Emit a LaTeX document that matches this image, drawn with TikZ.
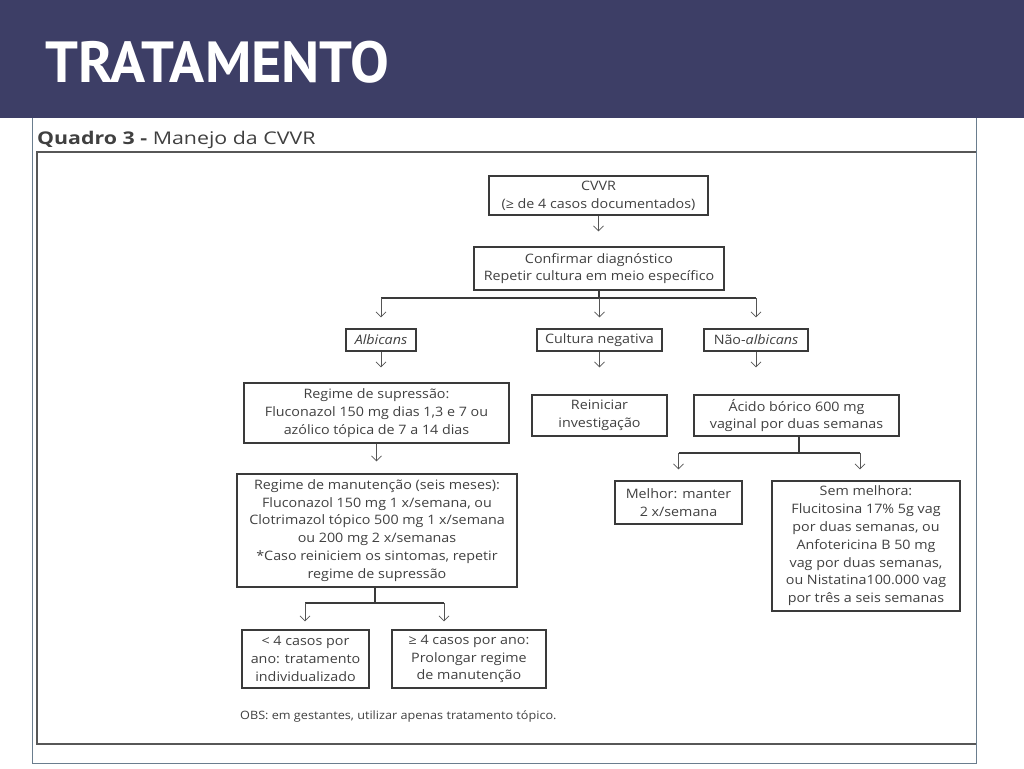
\documentclass[tikz,border=0pt]{standalone}
\usepackage{fontspec}
\setmainfont[FakeStretch=1.1]{Open Sans}
\newfontfamily\headfont[FakeStretch=1.22]{Open Sans}
\newfontfamily\titlefont{PT Sans}
\usetikzlibrary{arrows.meta}

\definecolor{barblue}{HTML}{3D3E66}
\definecolor{framecol}{HTML}{6A7D8E}
\definecolor{boxgray}{HTML}{3A3A3A}
\definecolor{txtgray}{HTML}{404040}
\definecolor{arrgray}{HTML}{555555}

\tikzset{
  box/.style={draw=boxgray, line width=1.2pt, align=center, inner sep=2pt,
    text=txtgray, font=\fontsize{13}{17.8}\selectfont},
  arr/.style={-{Straight Barb[length=5pt,width=10pt]}, draw=arrgray, line width=0.8pt},
  link/.style={draw=boxgray, line width=1.2pt},
}

\begin{document}
\begin{tikzpicture}[x=1pt, y=-1pt]
    \useasboundingbox (0,0) rectangle (1024,768);
    % slide background and title
    \fill[white] (0,0) rectangle (1024,768);
    \fill[barblue] (0,0) rectangle (1024,118);
    \node[anchor=base west, inner sep=0, text=white,
      font=\titlefont\fontsize{58}{58}\bfseries\selectfont] (title) at (45,82) {TRATAMENTO};

    % frames
    \draw[framecol, line width=0.8pt] (32,118) -- (32,763) -- (976,763) -- (976,118);
    \draw[boxgray!85, line width=1.6pt] (976,152) -- (37,152) -- (37,744) -- (976,744);
    \node[anchor=base west, inner sep=0, text=txtgray,
      font=\headfont\fontsize{17.5}{19}\selectfont] (quadro) at (37,144)
      {\textbf{Quadro 3 -} Manejo da CVVR};

    % boxes
    \node[box, minimum width=219, minimum height=39] (cvvr) at (598.5,195.5)
      {CVVR\\(≥ de 4 casos documentados)};
    \node[box, minimum width=250, minimum height=43] (conf) at (599,268.5)
      {Confirmar diagnóstico\\Repetir cultura em meio específico};

    \node[box, minimum width=70, minimum height=22] (alb) at (381,340) {\textit{Albicans}};
    \node[box, minimum width=125, minimum height=22] (neg) at (599.5,340) {Cultura negativa};
    \node[box, minimum width=104, minimum height=22] (nalb) at (756,340) {Não-\textit{albicans}};

    \node[box, minimum width=265, minimum height=60] (sup) at (376.5,413)
      {Regime de supressão:\\Fluconazol 150 mg dias 1,3 e 7 ou\\azólico tópica de 7 a 14 dias};
    \node[box, minimum width=135, minimum height=41] (rein) at (599.5,415.5)
      {Reiniciar\\investigação};
    \node[box, minimum width=205, minimum height=41] (acido) at (796.5,415.5)
      {Ácido bórico 600 mg\\vaginal por duas semanas};

    \node[box, minimum width=280, minimum height=113] (man) at (377,530.5)
      {Regime de manutenção (seis meses):\\Fluconazol 150 mg 1 x/semana, ou\\
       Clotrimazol tópico 500 mg 1 x/semana\\ou 200 mg 2 x/semanas\\
       *Caso reiniciem os sintomas, repetir\\regime de supressão};
    \node[box, minimum width=127, minimum height=43] (melhor) at (678.5,502.5)
      {Melhor: manter\\2 x/semana};
    \node[box, minimum width=188, minimum height=130] (sem) at (866,546)
      {Sem melhora:\\Flucitosina 17\% 5g vag\\por duas semanas, ou\\Anfotericina B 50 mg\\
       vag por duas semanas,\\ou Nistatina100.000 vag\\por três a seis semanas};

    \node[box, minimum width=127, minimum height=58] (menos) at (305.5,659)
      {< 4 casos por\\ano: tratamento\\individualizado};
    \node[box, minimum width=154, minimum height=58] (mais) at (469,659)
      {≥ 4 casos por ano:\\Prolongar regime\\de manutenção};

    \node[anchor=west, inner sep=0, text=txtgray,
      font=\fontsize{11.5}{14}\selectfont] (obs) at (240,716)
      {OBS: em gestantes, utilizar apenas tratamento tópico.};

    % connectors
    \draw[arr, shorten >=15pt] (cvvr.south) -- (cvvr.south |- conf.north);

    \coordinate (b1) at (599,298);
    \draw[link] (conf.south) -- (b1);
    \draw[link] (alb.north |- b1) -- (nalb.north |- b1);
    \draw[arr, shorten >=11pt] (alb.north |- b1) -- (alb.north);
    \draw[arr, shorten >=11pt] (neg.north |- b1) -- (neg.north);
    \draw[arr, shorten >=11pt] (nalb.north |- b1) -- (nalb.north);

    \draw[arr, shorten >=15pt] (alb.south) -- (alb.south |- sup.north);
    \draw[arr, shorten >=27pt] (neg.south) -- (neg.south |- rein.north);
    \draw[arr, shorten >=27pt] (nalb.south) -- (nalb.south |- acido.north);
    \draw[arr, shorten >=12pt] (sup.south) -- (sup.south |- man.north);

    \coordinate (b2) at (799,453);
    \coordinate (b2r) at (860,453);
    \draw[link] (acido.south -| b2) -- (b2);
    \draw[link] (melhor.north |- b2) -- (b2r);
    \draw[arr, shorten >=11pt] (melhor.north |- b2) -- (melhor.north);
    \draw[arr, shorten >=11pt] (b2r) -- (b2r |- sem.north);

    \coordinate (b3) at (375,603);
    \coordinate (b3l) at (305,603);
    \coordinate (b3r) at (444,603);
    \draw[link] (man.south -| b3) -- (b3);
    \draw[link] (b3l) -- (b3r);
    \draw[arr, shorten >=8pt] (b3l) -- (b3l |- menos.north);
    \draw[arr, shorten >=8pt] (b3r) -- (b3r |- mais.north);
\end{tikzpicture}
\end{document}
